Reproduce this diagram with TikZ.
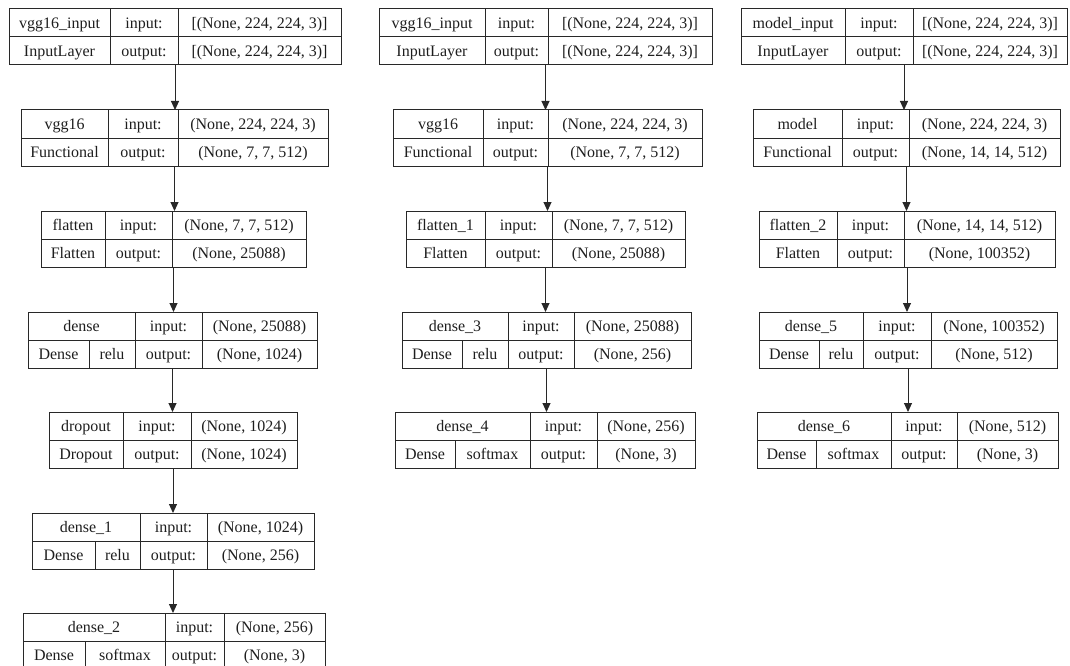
\documentclass[tikz,border=0pt]{standalone}
\usepackage{fontspec}
\setmainfont{Liberation Serif}
\usetikzlibrary{arrows.meta}
\definecolor{linegray}{RGB}{40,40,40}
\definecolor{textgray}{RGB}{30,30,30}
\tikzset{
  layerbox/.style={draw=linegray, line width=1pt, inner sep=0pt, outer sep=0pt, fill=none},
  cellline/.style={draw=linegray, line width=1pt},
  txt/.style={anchor=base, inner sep=0pt, text=textgray, font=\fontsize{16}{19}\selectfont},
  conn/.style={draw=linegray, line width=1pt, -{Triangle[length=9pt,width=8pt]}}
}
\newcommand\setlabels[4]{\def\lname{#1}\def\ltype{#2}\def\lin{#3}\def\lout{#4}}
% #1 id, #2 L, #3 T, #4 R, #5 D1, #6 D2
\newcommand\plainlayer[6]{%
  \node[layerbox, anchor=north west, minimum width={#4-#2}, minimum height=56] (#1) at (#2,#3) {};
  \draw[cellline] (#5,#3) -- (#5,{#3+56});
  \draw[cellline] (#6,#3) -- (#6,{#3+56});
  \draw[cellline] (#2,{#3+28}) -- (#4,{#3+28});
  \node[txt] (#1-n) at ({(#2+#5)/2},{#3+19.5}) {\lname};
  \node[txt] (#1-t) at ({(#2+#5)/2},{#3+47.5}) {\ltype};
  \node[txt] (#1-i) at ({(#5+#6)/2},{#3+19.5}) {input:};
  \node[txt] (#1-o) at ({(#5+#6)/2},{#3+47.5}) {output:};
  \node[txt] (#1-is) at ({(#6+#4)/2},{#3+19.5}) {\lin};
  \node[txt] (#1-os) at ({(#6+#4)/2},{#3+47.5}) {\lout};
}
% #1 id, #2 L, #3 T, #4 R, #5 D0, #6 D1, #7 D2 ; \ltype holds the activation
\newcommand\denselayer[7]{%
  \node[layerbox, anchor=north west, minimum width={#4-#2}, minimum height=56] (#1) at (#2,#3) {};
  \draw[cellline] (#5,{#3+28}) -- (#5,{#3+56});
  \draw[cellline] (#6,#3) -- (#6,{#3+56});
  \draw[cellline] (#7,#3) -- (#7,{#3+56});
  \draw[cellline] (#2,{#3+28}) -- (#4,{#3+28});
  \node[txt] (#1-n) at ({(#2+#6)/2},{#3+19.5}) {\lname};
  \node[txt] (#1-t) at ({(#2+#5)/2},{#3+47.5}) {Dense};
  \node[txt] (#1-a) at ({(#5+#6)/2},{#3+47.5}) {\ltype};
  \node[txt] (#1-i) at ({(#6+#7)/2},{#3+19.5}) {input:};
  \node[txt] (#1-o) at ({(#6+#7)/2},{#3+47.5}) {output:};
  \node[txt] (#1-is) at ({(#7+#4)/2},{#3+19.5}) {\lin};
  \node[txt] (#1-os) at ({(#7+#4)/2},{#3+47.5}) {\lout};
}
\begin{document}
\begin{tikzpicture}[x=1pt,y=-1pt]
\useasboundingbox (0,0) rectangle (1070,666);
% ---------- column 1 ----------
\setlabels{vgg16\_input}{InputLayer}{[(None, 224, 224, 3)]}{[(None, 224, 224, 3)]}
\plainlayer{a1}{9}{9}{341}{110}{178}
\setlabels{vgg16}{Functional}{(None, 224, 224, 3)}{(None, 7, 7, 512)}
\plainlayer{a2}{21}{110}{328}{108}{178}
\setlabels{flatten}{Flatten}{(None, 7, 7, 512)}{(None, 25088)}
\plainlayer{a3}{41}{211}{306}{105}{172}
\setlabels{dense}{relu}{(None, 25088)}{(None, 1024)}
\denselayer{a4}{28}{312}{317}{89}{135}{202}
\setlabels{dropout}{Dropout}{(None, 1024)}{(None, 1024)}
\plainlayer{a5}{49}{412}{297}{123}{191}
\setlabels{dense\_1}{relu}{(None, 1024)}{(None, 256)}
\denselayer{a6}{32}{513}{314}{95}{140}{207}
\setlabels{dense\_2}{softmax}{(None, 256)}{(None, 3)}
\denselayer{a7}{23}{613}{325}{85}{165}{224}
% ---------- column 2 ----------
\setlabels{vgg16\_input}{InputLayer}{[(None, 224, 224, 3)]}{[(None, 224, 224, 3)]}
\plainlayer{b1}{379}{9}{712}{485}{548}
\setlabels{vgg16}{Functional}{(None, 224, 224, 3)}{(None, 7, 7, 512)}
\plainlayer{b2}{393}{110}{702}{483}{548}
\setlabels{flatten\_1}{Flatten}{(None, 7, 7, 512)}{(None, 25088)}
\plainlayer{b3}{406}{211}{685}{485}{552}
\setlabels{dense\_3}{relu}{(None, 25088)}{(None, 256)}
\denselayer{b4}{402}{312}{691}{462}{508}{574}
\setlabels{dense\_4}{softmax}{(None, 256)}{(None, 3)}
\denselayer{b5}{395}{412}{695}{455}{530}{597}
% ---------- column 3 ----------
\setlabels{model\_input}{InputLayer}{[(None, 224, 224, 3)]}{[(None, 224, 224, 3)]}
\plainlayer{c1}{741}{9}{1067}{845}{913}
\setlabels{model}{Functional}{(None, 224, 224, 3)}{(None, 14, 14, 512)}
\plainlayer{c2}{753}{110}{1060}{842}{909}
\setlabels{flatten\_2}{Flatten}{(None, 14, 14, 512)}{(None, 100352)}
\plainlayer{c3}{759}{211}{1055}{837}{904}
\setlabels{dense\_5}{relu}{(None, 100352)}{(None, 512)}
\denselayer{c4}{759}{312}{1057}{819}{863}{931}
\setlabels{dense\_6}{softmax}{(None, 512)}{(None, 3)}
\denselayer{c5}{757}{412}{1058}{816}{891}{957}
% ---------- connectors ----------
\foreach \u/\v in {a1/a2,a2/a3,a3/a4,a4/a5,a5/a6,a6/a7,b1/b2,b2/b3,b3/b4,b4/b5,c1/c2,c2/c3,c3/c4,c4/c5}
  \draw[conn] (\u.south) -- (\u.south |- \v.north);
\end{tikzpicture}
\end{document}
